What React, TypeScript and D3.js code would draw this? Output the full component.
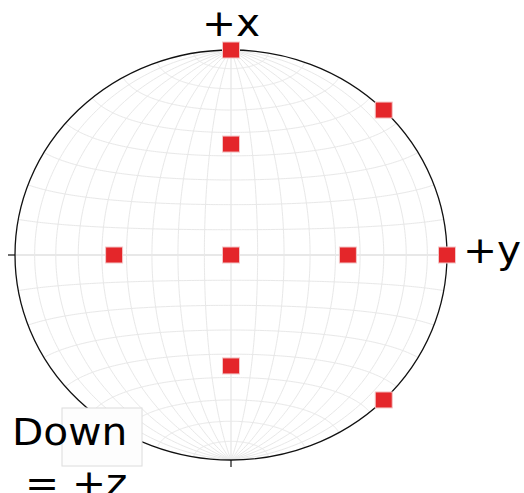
import React from "react";
import * as d3 from "d3";

// Direction vectors plotted on the lower hemisphere (x up, y right, z down into the page)
const vx = [0, 1, 0, 1, -1, 1, -1, 0, 0];
const vy = [0, 0, 1, 1, 1, 0, 0, 1, -1];
const vz = [1, 0, 0, 0, 0, 1, 1, 1, 1];

// Graticule spacing (degrees)
const meridianLons = d3.range(-80, 81, 10);
const parallelLats = d3.range(-80, 81, 10);

const W = 524;
const H = 493;
const cx = 231;
const cy = 255;
const rx = 216;
const ry = 205;
const ky = ry / rx;

export default function App() {
  const raw = (l: number, p: number) => {
    const [x, y] = d3.geoAzimuthalEqualAreaRaw(l, p);
    return [x, y * ky];
  };
  const projection = d3
    .geoProjection(raw as any)
    .scale(rx / Math.SQRT2)
    .translate([cx, cy])
    .precision(0.2);
  const path = d3.geoPath(projection);

  const meridians = meridianLons.map((lon) => ({
    lon,
    d: path({
      type: "LineString",
      coordinates: d3.range(-90, 90.01, 1).map((lat) => [lon, lat]),
    } as any) as string,
  }));
  const parallels = parallelLats.map((lat) => ({
    lat,
    d: path({
      type: "LineString",
      coordinates: d3.range(-90, 90.01, 1).map((lon) => [lon, lat]),
    } as any) as string,
  }));

  const points = vx.map((x, i) => {
    const y = vy[i];
    const z = vz[i];
    const n = Math.hypot(x, y, z);
    const lat = (Math.asin(x / n) * 180) / Math.PI;
    const lon = (Math.atan2(y, z) * 180) / Math.PI;
    return projection([lon, lat]) as [number, number];
  });

  const gridColor = "#e8e8e8";
  const font = "'DejaVu Sans', sans-serif";
  const fs = 37;

  return (
    <svg
      width={W}
      height={H}
      style={{ position: "absolute", left: 0, top: 0 }}
      viewBox={`0 0 ${W} ${H}`}
    >
      <rect x={0} y={0} width={W} height={H} fill="#ffffff" />
      <g fill="none">
        {parallels.map((p) => (
          <path
            key={`p${p.lat}`}
            d={p.d}
            stroke={gridColor}
            strokeWidth={p.lat === 0 ? 2.2 : 1}
          />
        ))}
        {meridians.map((m) => (
          <path
            key={`m${m.lon}`}
            d={m.d}
            stroke={gridColor}
            strokeWidth={m.lon === 0 ? 1.4 : 1}
          />
        ))}
      </g>
      <ellipse
        cx={cx}
        cy={cy}
        rx={rx}
        ry={ry}
        fill="none"
        stroke="#111"
        strokeWidth={1.3}
      />
      <line x1={cx - rx - 7} y1={cy} x2={cx - rx} y2={cy} stroke="#111" strokeWidth={1.2} />
      <line x1={cx} y1={cy + ry} x2={cx} y2={cy + ry + 7} stroke="#111" strokeWidth={1.2} />

      {points.map(([px, py], i) => (
        <rect
          key={i}
          x={px - 8.5}
          y={py - 8}
          width={17}
          height={16}
          fill="#e4262a"
          stroke="#f3c6c7"
          strokeWidth={1}
        />
      ))}

      <text
        transform={`translate(231,36) scale(1.1,1)`}
        textAnchor="middle"
        fontFamily={font}
        fontSize={fs}
        fill="#000"
      >
        +x
      </text>
      <text
        transform={`translate(463,263) scale(1.1,1)`}
        fontFamily={font}
        fontSize={fs}
        fill="#000"
      >
        +y
      </text>

      <rect x={62} y={408} width={80} height={58} fill="#fdfdfd" stroke="#dcdcdc" strokeWidth={1} />
      <text
        transform={`translate(12,445) scale(1.1,1)`}
        fontFamily={font}
        fontSize={fs}
        fill="#000"
      >
        Down
      </text>
      <text
        transform={`translate(25,496) scale(1.1,1)`}
        fontFamily={font}
        fontSize={fs}
        fill="#000"
      >
        = +z
      </text>
    </svg>
  );
}
